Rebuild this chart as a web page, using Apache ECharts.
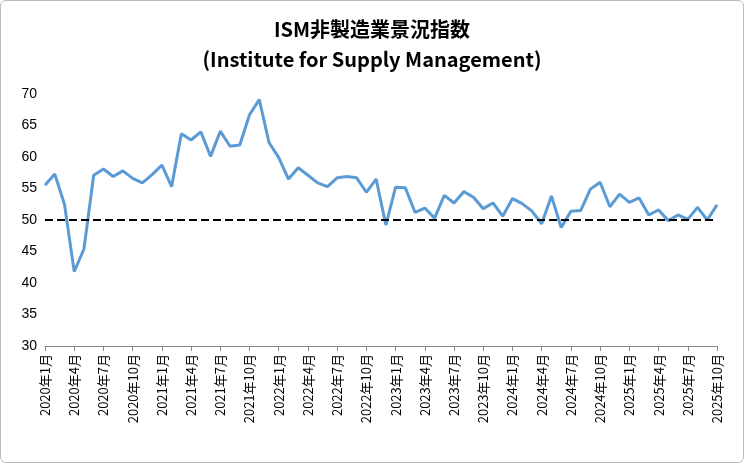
<!DOCTYPE html>
<html lang="ja">
<head>
  <meta charset="UTF-8">
  <title>ISM非製造業景況指数</title>
  <script src="https://cdn.jsdelivr.net/npm/echarts@6/dist/echarts.min.js"></script>
  <style>
    body { margin: 0; }
    #chart { width: 742px; height: 461px; border: 1px solid #bbb; border-radius: 6px; }
  </style>
</head>
<body>
  <div id="chart"></div>
</body>
</html>
<script type="text/javascript">
  let months = [];
  for (let y = 2020; y <= 2025; y++) {
    for (let m = 1; m <= 12; m++) {
      if (y === 2025 && m > 10) break;
      months.push(y + "年" + m + "月");
    }
  }
  let values2020 = [55.5, 57.3, 52.5, 41.8, 45.4, 57.1, 58.1, 56.9, 57.8, 56.6, 55.9, 57.2];
  let values2021 = [58.7, 55.3, 63.7, 62.7, 64.0, 60.1, 64.1, 61.7, 61.9, 66.7, 69.1, 62.3];
  let values2022 = [59.9, 56.5, 58.3, 57.1, 55.9, 55.3, 56.7, 56.9, 56.7, 54.4, 56.5, 49.2];
  let values2023 = [55.2, 55.1, 51.2, 51.9, 50.3, 53.9, 52.7, 54.5, 53.6, 51.8, 52.7, 50.6];
  let values2024 = [53.4, 52.6, 51.4, 49.4, 53.8, 48.8, 51.4, 51.5, 54.9, 56.0, 52.1, 54.1];
  let values2025 = [52.8, 53.5, 50.8, 51.6, 49.9, 50.8, 50.1, 52.0, 50.0, 52.4];
  let values = [].concat(values2020, values2021, values2022, values2023, values2024, values2025);

  let chart = echarts.init(document.getElementById('chart'));
  chart.setOption({
    animation: false,
    title: {
      text: 'ISM非製造業景況指数\n(Institute for Supply Management)',
      left: 'center',
      top: 8,
      textStyle: { fontSize: 20, fontWeight: 'bold', color: '#000', lineHeight: 30, fontFamily: 'Noto Sans CJK JP' }
    },
    grid: { left: 44, right: 26, top: 93, bottom: 116 },
    xAxis: {
      type: 'category',
      data: months,
      boundaryGap: false,
      axisLine: { lineStyle: { color: '#888' } },
      axisTick: { interval: 2, lineStyle: { color: '#888' } },
      axisLabel: { interval: 2, rotate: 90, color: '#000', fontSize: 13, fontFamily: 'Noto Sans CJK JP' }
    },
    yAxis: {
      type: 'value',
      min: 30, max: 70, interval: 5,
      splitLine: { show: false },
      axisLine: { show: false },
      axisLabel: { color: '#000', fontSize: 14 }
    },
    series: [{
      type: 'line',
      data: values,
      symbol: 'none',
      lineStyle: { width: 3, color: '#5b9bd5' },
      markLine: {
        symbol: 'none',
        silent: true,
        label: { show: false },
        lineStyle: { type: 'dashed', color: '#000', width: 2 },
        data: [{ yAxis: 50 }]
      }
    }]
  });
</script>
